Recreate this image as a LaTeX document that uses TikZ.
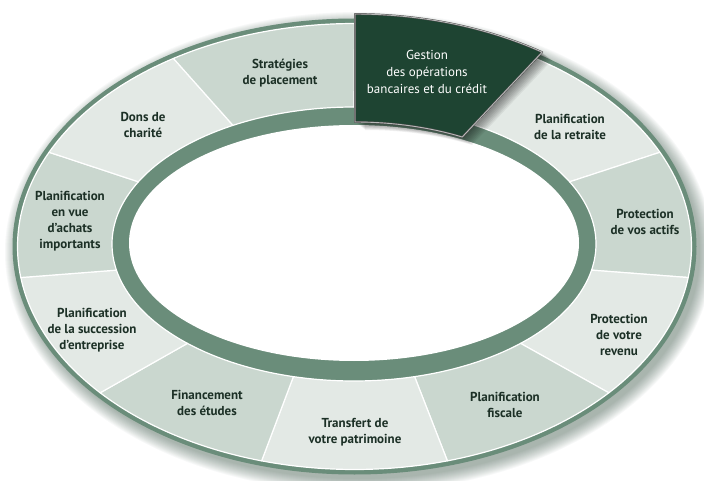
\documentclass[tikz,border=0pt]{standalone}
\usepackage{fontspec}
\setmainfont{PT Sans}
\definecolor{bandgreen}{RGB}{106,141,122}
\definecolor{seglight}{RGB}{227,233,229}
\definecolor{segmed}{RGB}{202,215,207}
\definecolor{txt}{RGB}{28,48,38}
\definecolor{boxgreen}{RGB}{30,68,50}
\definecolor{shadowcol}{RGB}{50,80,65}
\def\ocx{354.5}\def\ocy{246.5}\def\oA{337}\def\oB{223}
\def\icx{354}\def\icy{244}\def\iA{242}\def\iB{137}
\newcommand\ringseg[5]{%
  \filldraw[fill=#5, draw=white, line width=1.2pt, line join=round]
    plot[domain=#1:#2, samples=30, variable=\tv] ({\ocx+\oA*cos(\tv)},{\ocy-\oB*sin(\tv)})
    -- plot[domain=#4:#3, samples=30, variable=\tv] ({\icx+\iA*cos(\tv)},{\icy-\iB*sin(\tv)})
    -- cycle;}
\newcommand\gestionpath{%
  plot[domain=90:56.6, samples=30, variable=\tv] ({355+340*cos(\tv)},{245-231*sin(\tv)})
  -- plot[domain=61.4:90, samples=30, variable=\tv] ({355+224*cos(\tv)},{245-123*sin(\tv)})
  -- cycle}
\tikzset{
  lbl/.style={font=\bfseries\fontsize{13}{16}\selectfont, text=txt, align=center, inner sep=0pt},
  wlbl/.style={font=\fontsize{13}{17}\selectfont, text=white, align=center, inner sep=0pt}
}
\begin{document}
\begin{tikzpicture}[x=1pt,y=-1pt]
\useasboundingbox (0,0) rectangle (704,481);
\fill[white] (0,0) rectangle (704,481);
% soft shadow of the ring
\foreach \i in {0,...,13}
  \fill[shadowcol,opacity=0.035] (359,252) ellipse [x radius={341+\i}, y radius={227+\i}];
% outer ellipse (border + band colour)
\fill[bandgreen] (\ocx,\ocy) ellipse [x radius=342, y radius=228];
% segments
\ringseg{90}{57.5}{90}{60}{seglight}
\ringseg{57.5}{25}{60}{27}{seglight}
\ringseg{25}{-8}{27}{-11}{segmed}
\ringseg{-8}{-41}{-11}{-46.5}{seglight}
\ringseg{-41}{-74}{-46.5}{-75.5}{segmed}
\ringseg{-74}{-106}{-75.5}{-104.5}{seglight}
\ringseg{-106}{-139}{-104.5}{-133.5}{segmed}
\ringseg{-139}{-172}{-133.5}{-169}{seglight}
\ringseg{-172}{-205}{-169}{-207}{segmed}
\ringseg{-205}{-237.5}{-207}{-240}{seglight}
\ringseg{-237.5}{-270}{-240}{-270}{segmed}
% white centre
\fill[white] (354,243) ellipse [x radius=225, y radius=118];
% highlighted segment: shadow
\foreach \i in {1,...,10}
  \fill[black,opacity=0.055,shift={(\i*1.0,\i*0.8)}] \gestionpath;
\filldraw[fill=boxgreen, draw=black!70, line width=1.8pt, line join=round] \gestionpath;
\draw[gray!55, line width=0.9pt, line join=round] \gestionpath;
% labels
\node[wlbl] (gestion) at (427,72) {Gestion\\des opérations\\bancaires et du crédit};
\node[lbl] (strat) at (280,73) {Stratégies\\de placement};
\node[lbl] (retraite) at (570,127) {Planification\\de la retraite};
\node[lbl] (actifs) at (645,222) {Protection\\de vos actifs};
\node[lbl] (revenu) at (619,335) {Protection\\de votre\\revenu};
\node[lbl] (fiscale) at (505,405) {Planification\\fiscale};
\node[lbl] (transfert) at (355,432) {Transfert de\\votre patrimoine};
\node[lbl] (etudes) at (207,403) {Financement\\des études};
\node[lbl] (succession) at (92,330) {Planification\\de la succession\\d’entreprise};
\node[lbl] (achats) at (70,221) {Planification\\en vue\\d’achats\\importants};
\node[lbl] (dons) at (143,125) {Dons de\\charité};
\end{tikzpicture}
\end{document}
